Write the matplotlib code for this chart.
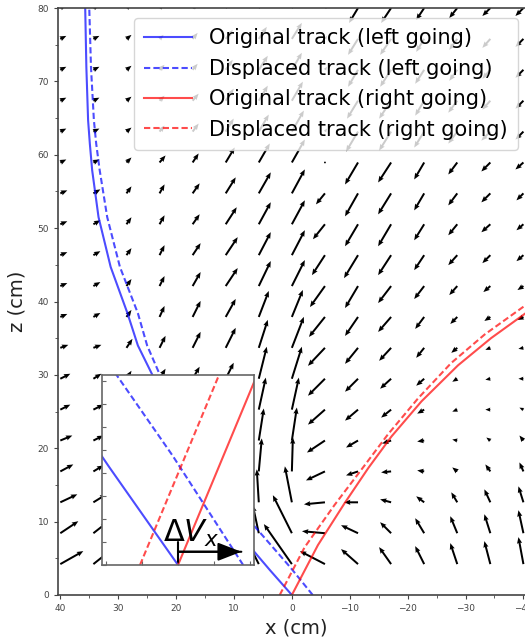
import numpy as np
import matplotlib.pyplot as plt
from matplotlib.ticker import MultipleLocator

# grid of the field map (cm)
x_grid = np.linspace(40, -40, 15)
z_grid = np.linspace(0, 80, 20)[1:]

# arrow components as drawn on the page (right / up), one row per z, bottom row first
arrow_dx = [
    [23, 15, 20, 18, 15, 10, -10, -28, -25, -17, -12, -9, -7, -6, -5],
    [18, 14, 17, 15, 12, 6, -6, -19, -23, -17, -11, -9, -7, -6, -5],
    [17, 13, 14, 12, 9, 4, -2, -7, -21, -14, -11, -8, -6, -6, -5],
    [13, 10, 11, 9, 7, 4, 3, 1, -19, -12, -10, -7, -5, -5, -4],
    [12, 10, 9, 7, 6, 5, 5, 5, -18, -12, -9, -7, -5, -4, -4],
    [10, 10, 7, 6, 6, 6, 7, 7, -17, -13, -10, -7, -5, -5, -4],
    [10, 8, 5, 6, 7, 8, 8, 10, -17, -13, -11, -8, -5, -5, -5],
    [8, 8, 6, 6, 8, 10, 9, 12, -17, -13, -12, -8, -6, -5, -5],
    [7, 7, 5, 5, 8, 10, 10, 11, -16, -13, -13, -9, -7, -6, -6],
    [7, 7, 5, 5, 8, 12, 12, 13, -15, -13, -13, -10, -8, -7, -6],
    [7, 7, 5, 5, 8, 12, 12, 13, -13, -14, -13, -10, -9, -8, -7],
    [7, 7, 5, 5, 7, 11, 12, 13, -12, -13, -13, -10, -9, -9, -7],
    [7, 7, 5, 5, 7, 10, 12, 13, -9, -13, -13, -10, -9, -9, -7],
    [6, 6, 5, 6, 6, 9, 11, 13, -1, -13, -13, -10, -9, -9, -8],
    [6, 6, 5, 5, 6, 8, 10, 12, 2, -12, -12, -10, -9, -9, -8],
    [6, 6, 5, 5, 6, 8, 9, 11, 2, -11, -12, -9, -9, -8, -8],
    [6, 6, 5, 5, 5, 7, 9, 10, 2, -10, -11, -9, -8, -8, -8],
    [6, 6, 5, 4, 5, 7, 8, 10, 2, -10, -11, -8, -8, -8, -8],
    [6, 6, 5, 4, 5, 6, 8, 9, 2, -9, -10, -8, -8, -8, -8],
]
arrow_dz = [
    [13, 12, 14, 16, 18, 20, 20, 40, 13, 15, 17, 18, 21, 23, 27],
    [12, 11, 12, 14, 17, 22, 28, 38, 2, 8, 11, 15, 17, 19, 23],
    [8, 8, 10, 13, 17, 22, 33, 36, -2, 0, 3, 6, 10, 13, 16],
    [7, 6, 9, 13, 18, 21, 33, 34, -9, -4, -1, 1, 4, 7, 9],
    [5, 5, 9, 13, 18, 20, 32, 33, -12, -7, -3, -1, 1, 3, 5],
    [5, 5, 8, 13, 18, 20, 32, 32, -15, -11, -8, -4, -2, 0, 2],
    [5, 5, 8, 10, 12, 16, 32, 32, -17, -13, -10, -7, -3, -1, 0],
    [3, 3, 9, 12, 16, 20, 28, 31, -18, -16, -13, -10, -5, -2, -1],
    [3, 4, 7, 11, 16, 18, 26, 27, -20, -19, -15, -12, -7, -4, -3],
    [3, 4, 7, 10, 14, 18, 25, 26, -21, -22, -17, -13, -9, -6, -4],
    [3, 4, 7, 10, 12, 18, 23, 25, -20, -23, -20, -15, -10, -8, -6],
    [3, 4, 7, 9, 10, 17, 22, 24, -15, -22, -22, -16, -11, -8, -6],
    [3, 4, 7, 9, 10, 16, 21, 24, -11, -23, -21, -17, -12, -9, -7],
    [3, 3, 5, 7, 9, 15, 19, 23, -1, -22, -20, -17, -12, -9, -7],
    [3, 3, 4, 6, 8, 13, 17, 21, 3, -20, -19, -16, -12, -9, -8],
    [3, 3, 4, 5, 7, 12, 15, 19, 3, -18, -18, -15, -12, -9, -8],
    [3, 3, 4, 5, 6, 10, 14, 17, 3, -17, -17, -14, -11, -9, -8],
    [3, 3, 4, 4, 6, 9, 12, 16, 3, -16, -16, -13, -11, -9, -8],
    [3, 3, 4, 4, 5, 8, 11, 15, 3, -15, -15, -12, -10, -8, -8],
]

# tracks (x, z) in cm
left_orig_x = [0, 3.8, 6.5, 24.1, 26.6, 28.4, 31.3, 33.4, 34.5, 34.9, 35.2, 35.5, 35.7]
left_orig_z = [0, 3.4, 5.9, 30.0, 34.0, 38.4, 44.7, 51.5, 57.9, 61.5, 64.7, 71.9, 80.0]
left_disp_x = [-3.6, 0.3, 6.6, 22.8, 25.0, 26.6, 29.7, 31.9, 33.2, 33.8, 34.2, 34.7, 35.0]
left_disp_z = [0, 3.8, 9.5, 30.0, 34.0, 38.4, 44.7, 51.5, 57.9, 61.5, 64.7, 71.9, 80.0]
right_orig_x = [0, -4.5, -9.1, -13.2, -17.2, -22.4, -28.7, -34.4, -40.2, -42.0]
right_orig_z = [0, 6.8, 12.5, 17.3, 21.6, 26.4, 31.3, 35.0, 38.3, 39.3]
right_disp_x = [2.1, -2.2, -7.4, -12.6, -16.6, -21.8, -27.5, -33.3, -40.2, -42.0]
right_disp_z = [0, 6.5, 12.3, 17.7, 21.9, 26.8, 31.6, 35.5, 39.4, 40.4]

delta_vx = 3.5  # shift of the left going track at z = 0

fig = plt.figure(figsize=(5.25, 6.37), dpi=100)
ax = fig.add_axes([58/525, 42/637, 477/525, 587/637])

X, Z = np.meshgrid(x_grid, z_grid)
ax.quiver(X, Z, np.array(arrow_dx), np.array(arrow_dz), angles='uv',
          units='dots', scale_units='dots', scale=1, width=2.0,
          headwidth=2.6, headlength=3.2, headaxislength=2.9, color='k', zorder=2)

ax.plot(left_orig_x, left_orig_z, color='b', alpha=0.7, lw=1.5,
        label='Original track (left going)')
ax.plot(left_disp_x, left_disp_z, color='b', alpha=0.7, lw=1.5, ls=(0, (3, 1.5)),
        label='Displaced track (left going)')
ax.plot(right_orig_x, right_orig_z, color='r', alpha=0.7, lw=1.5,
        label='Original track (right going)')
ax.plot(right_disp_x, right_disp_z, color='r', alpha=0.7, lw=1.5, ls=(0, (3, 1.5)),
        label='Displaced track (right going)')

ax.set_xlim(40.4, -42.0)
ax.set_ylim(0, 80)
ax.xaxis.set_major_locator(MultipleLocator(10))
ax.xaxis.set_minor_locator(MultipleLocator(5))
ax.yaxis.set_major_locator(MultipleLocator(10))
ax.yaxis.set_minor_locator(MultipleLocator(5))
ax.tick_params(which='both', direction='out', labelsize=6.5, colors='#444')
ax.tick_params(which='major', length=3)
ax.tick_params(which='minor', length=2)
for sp in ax.spines.values():
    sp.set_color('#444')
    sp.set_linewidth(1.2)
ax.set_xlabel('x (cm)', fontsize=14, color='#222', labelpad=4)
ax.set_ylabel('z (cm)', fontsize=14, color='#222', labelpad=8)

ax.legend(loc='upper right', bbox_to_anchor=(518/525, 619/637),
          bbox_transform=fig.transFigure, borderaxespad=0, fontsize=15,
          handlelength=2.3, borderpad=0.5)

# zoom on the origin
axin = fig.add_axes([102/525, 72/637, 152/525, 190/637])
axin.set_zorder(5)
axin.plot(left_orig_x, left_orig_z, color='b', alpha=0.7, lw=1.5)
axin.plot(left_disp_x, left_disp_z, color='b', alpha=0.7, lw=1.5, ls=(0, (3, 1.5)))
axin.plot(right_orig_x, right_orig_z, color='r', alpha=0.7, lw=1.5)
axin.plot(right_disp_x, right_disp_z, color='r', alpha=0.7, lw=1.5, ls=(0, (3, 1.5)))
axin.set_xlim(4.2, -4.2)
axin.set_ylim(0, 6.6)
axin.xaxis.set_major_locator(MultipleLocator(2))
axin.yaxis.set_major_locator(MultipleLocator(0.8))
axin.tick_params(direction='in', length=3, labelbottom=False, labelleft=False,
                 colors='#666')
for sp in axin.spines.values():
    sp.set_color('#666')
    sp.set_linewidth(1.2)

# delta V_x arrow: bar at the track origin, filled head at the shifted origin
axin.annotate('', xy=(-delta_vx, 0.46), xytext=(0, 0.46),
              arrowprops=dict(arrowstyle='|-|,widthA=0.45,widthB=0',
                              color='k', lw=1.5, shrinkA=0, shrinkB=0, mutation_scale=16))
axin.annotate('', xy=(-delta_vx, 0.46), xytext=(0, 0.46),
              arrowprops=dict(arrowstyle='-|>,head_length=0.9,head_width=0.35',
                              color='k', lw=1.5, shrinkA=0, shrinkB=0, mutation_scale=16))
axin.text(0.40, 0.12, r'$\Delta V_x$', transform=axin.transAxes, fontsize=22,
          va='baseline', ha='left')

fig.savefig('out.png', dpi=100)
